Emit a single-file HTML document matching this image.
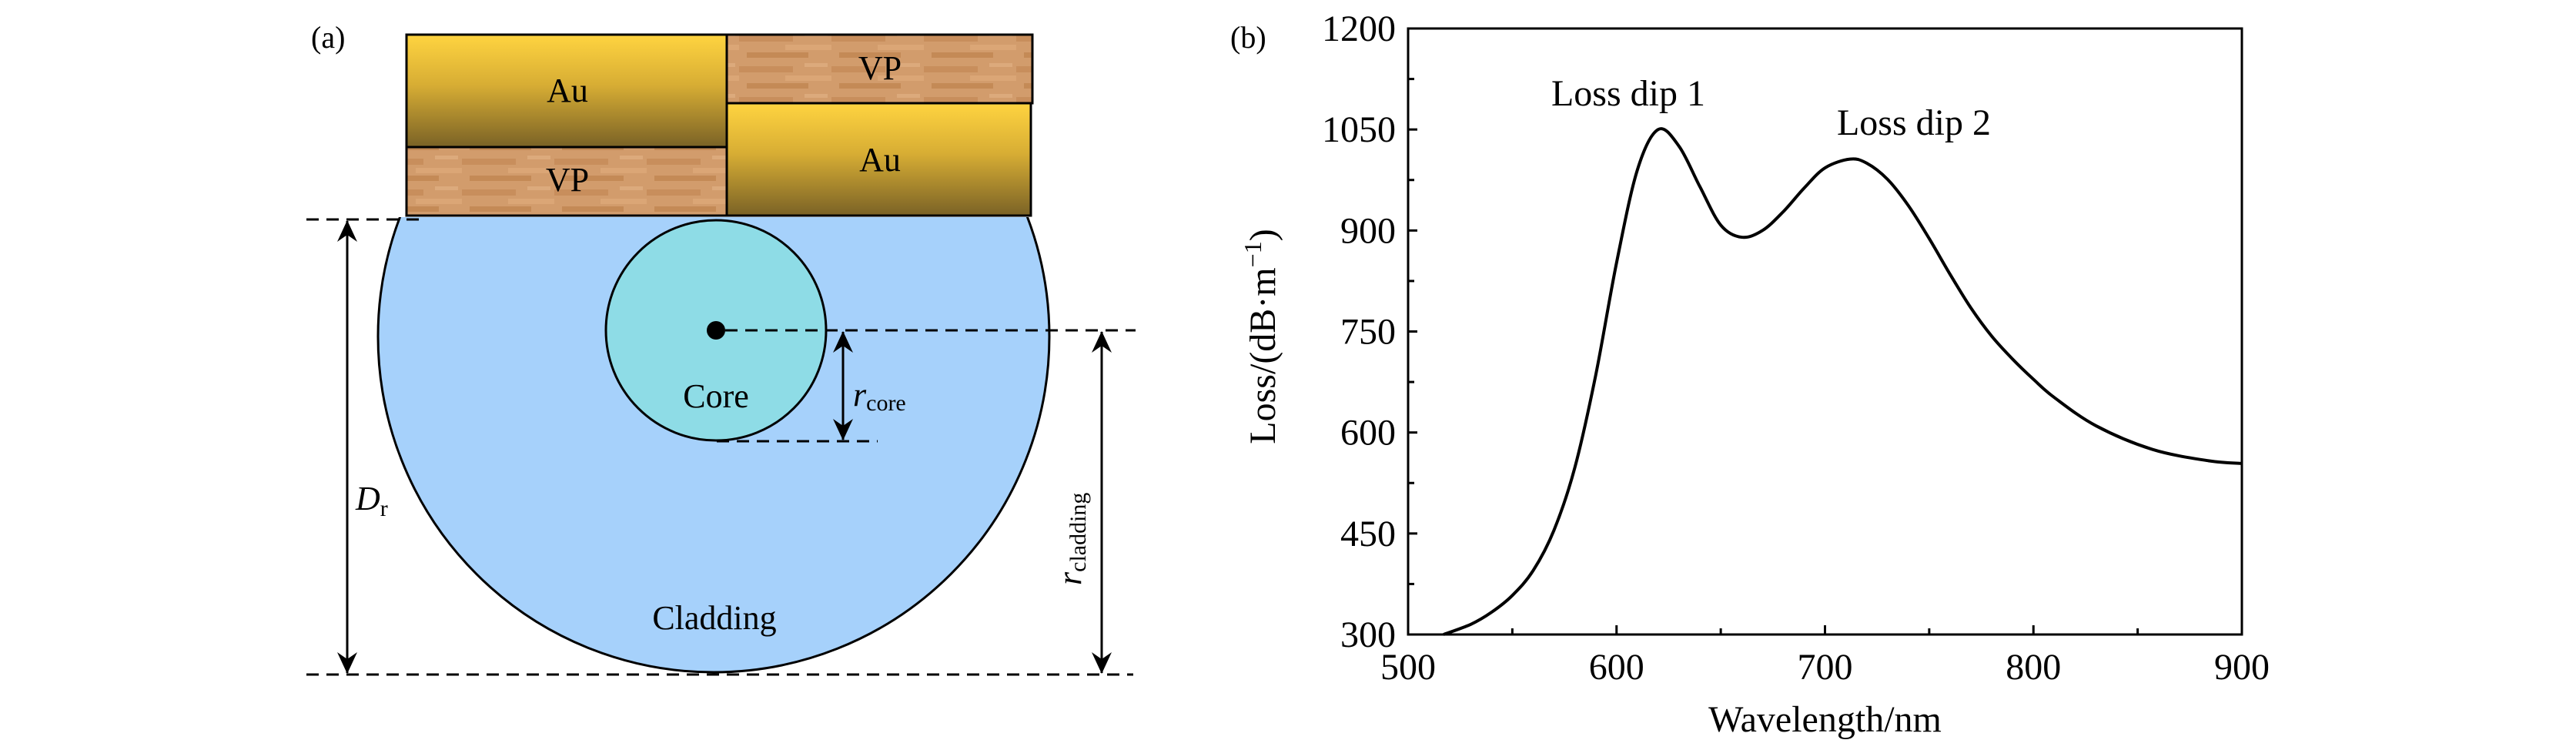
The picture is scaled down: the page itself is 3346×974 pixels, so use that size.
<!DOCTYPE html>
<html><head><meta charset="utf-8"><style>
html,body{margin:0;padding:0;background:#fff;}
svg{display:block;}
svg text{font-family:"Liberation Serif","DejaVu Serif",serif;}
</style></head><body>
<svg id="fig" width="3346" height="974" viewBox="0 0 3346 974" xmlns="http://www.w3.org/2000/svg" font-family="Liberation Serif, serif">
<defs>
<linearGradient id="gold" x1="0" y1="0" x2="0" y2="1">
<stop offset="0" stop-color="#ffd440"/><stop offset="0.45" stop-color="#d7ad34"/><stop offset="1" stop-color="#7a6226"/>
</linearGradient>
<pattern id="wood" width="120" height="40" patternUnits="userSpaceOnUse">
<rect width="120" height="40" fill="#d29c6c"/>
<rect x="0" y="6" width="70" height="8" fill="#c88e5c"/>
<rect x="60" y="18" width="60" height="7" fill="#dba676"/>
<rect x="10" y="28" width="80" height="7" fill="#c48a56"/>
<rect x="85" y="2" width="30" height="5" fill="#dcaa7c"/>
</pattern>
<clipPath id="cladClip"><rect x="0" y="282" width="1600" height="700"/></clipPath>
<marker id="ah" viewBox="0 0 28 28" refX="27" refY="14" markerWidth="28" markerHeight="28" markerUnits="userSpaceOnUse" orient="auto-start-reverse">
<path d="M0,1 L28,14 L0,27 L9,14 Z" fill="#000"/></marker>
</defs>

<g>
<text x="404" y="62" font-size="40" font-family="Liberation Serif, serif">(a)</text>
<circle cx="927" cy="437" r="436" fill="#a6d1fb" stroke="#000" stroke-width="3" clip-path="url(#cladClip)"/>
<rect x="528" y="45" width="416" height="146" fill="url(#gold)" stroke="#000" stroke-width="3"/>
<rect x="528" y="191" width="416" height="89" fill="url(#wood)" stroke="#000" stroke-width="3"/>
<rect x="944" y="45" width="397" height="89" fill="url(#wood)" stroke="#000" stroke-width="3"/>
<rect x="944" y="134" width="395" height="146" fill="url(#gold)" stroke="#000" stroke-width="3"/>
<g font-family="Liberation Serif, serif">
<text x="737" y="132" font-size="44" text-anchor="middle">Au</text>
<text x="737" y="248" font-size="44" text-anchor="middle">VP</text>
<text x="1143" y="103" font-size="44" text-anchor="middle">VP</text>
<text x="1143" y="222" font-size="44" text-anchor="middle">Au</text>
</g>
<circle cx="930" cy="429" r="143" fill="#8edce6" stroke="#000" stroke-width="3"/>
<circle cx="930" cy="429" r="12" fill="#000"/>
<g stroke="#000" stroke-width="3" stroke-dasharray="16,10" fill="none">
<line x1="398" y1="285" x2="552" y2="285"/>
<line x1="398" y1="876" x2="1472" y2="876"/>
<line x1="942" y1="429" x2="1475" y2="429"/>
<line x1="931" y1="573" x2="1140" y2="573"/>
</g>
<g stroke="#000" stroke-width="3">
<line x1="451" y1="287" x2="451" y2="874" marker-start="url(#ah)" marker-end="url(#ah)"/>
<line x1="1095" y1="431" x2="1095" y2="571" marker-start="url(#ah)" marker-end="url(#ah)"/>
<line x1="1431" y1="431" x2="1431" y2="874" marker-start="url(#ah)" marker-end="url(#ah)"/>
</g>
<g font-family="Liberation Serif, serif">
<text x="930" y="529" font-size="44" text-anchor="middle">Core</text>
<text x="928" y="817" font-size="44" text-anchor="middle">Cladding</text>
<text x="1108" y="527" font-size="44"><tspan font-style="italic">r</tspan><tspan font-size="30" dy="6">core</tspan></text>
<text x="462" y="662" font-size="44"><tspan font-style="italic">D</tspan><tspan font-size="30" dy="8">r</tspan></text>
<text transform="translate(1404,760) rotate(-90)" font-size="44"><tspan font-style="italic">r</tspan><tspan font-size="30" dy="6">cladding</tspan></text>
</g>
</g>

<g id="panelB" font-family="Liberation Serif, serif">
<text x="1598" y="62" font-size="40">(b)</text>
</g>
</svg>
<script>
const wavelengths = [517,530,540,550,560,570,580,590,600,610,620,630,640,650,660,670,680,690,700,712,720,730,740,750,760,770,780,790,800,810,830,857,884,900];
const lossValues  = [300,315,333,358,395,455,548,685,852,990,1050,1025,965,908,890,900,928,963,993,1006,1000,976,937,888,835,785,743,709,679,652,610,575,558,554];
const xTickValues = [500,600,700,800,900];
const xMinorTickValues = [550,650,750,850];
const yTickValues = [300,450,600,750,900,1050,1200];
const yMinorTickValues = [375,525,675,825,975,1125];

const L=1829,R=2912,T=37,B=824;
function xScale(v){return L+(v-500)/(900-500)*(R-L);}
function yScale(v){return B-(v-300)/(1200-300)*(B-T);}
const NS="http://www.w3.org/2000/svg";
const g=document.getElementById('panelB');
function mk(tag,attrs){const e=document.createElementNS(NS,tag);for(const k in attrs)e.setAttribute(k,attrs[k]);g.appendChild(e);return e;}

const pts=wavelengths.map((w,i)=>[xScale(w),yScale(lossValues[i])]);
let d="M"+pts[0][0]+","+pts[0][1];
for(let i=0;i<pts.length-1;i++){
  const p0=pts[Math.max(0,i-1)],p1=pts[i],p2=pts[i+1],p3=pts[Math.min(pts.length-1,i+2)];
  const c1=[p1[0]+(p2[0]-p0[0])/6,p1[1]+(p2[1]-p0[1])/6];
  const c2=[p2[0]-(p3[0]-p1[0])/6,p2[1]-(p3[1]-p1[1])/6];
  d+=" C"+c1[0]+","+c1[1]+" "+c2[0]+","+c2[1]+" "+p2[0]+","+p2[1];
}
const curve=mk('path',{d:d,fill:'none',stroke:'#000','stroke-width':4,'stroke-linejoin':'round'});



const frame=mk('rect',{x:L,y:T,width:R-L,height:B-T,fill:'none',stroke:'#000','stroke-width':3});



xTickValues.forEach(v=>{
  const t=mk('line',{x1:xScale(v),x2:xScale(v),y1:B,y2:B-12,stroke:'#000','stroke-width':3});
  
  
  const lb=mk('text',{x:xScale(v),y:B+58,'font-size':48,'text-anchor':'middle'});
  lb.textContent=v;
  
  
});
xMinorTickValues.forEach(v=>{
  const t=mk('line',{x1:xScale(v),x2:xScale(v),y1:B,y2:B-8,stroke:'#000','stroke-width':3});
  
  
});
yTickValues.forEach(v=>{
  const t=mk('line',{x1:L,x2:L+12,y1:yScale(v),y2:yScale(v),stroke:'#000','stroke-width':3});
  
  
  const lb=mk('text',{x:L-16,y:yScale(v)+16,'font-size':48,'text-anchor':'end'});
  lb.textContent=v;
  
  
});
yMinorTickValues.forEach(v=>{
  const t=mk('line',{x1:L,x2:L+8,y1:yScale(v),y2:yScale(v),stroke:'#000','stroke-width':3});
  
  
});

const xt=mk('text',{x:(L+R)/2,y:950,'font-size':48,'text-anchor':'middle'});
xt.textContent='Wavelength/nm';


const yt=mk('text',{transform:'translate(1656,437) rotate(-90)','font-size':48,'text-anchor':'middle'});
yt.innerHTML='Loss/(dB·m<tspan font-size="32" dy="-18">−1</tspan><tspan dy="18">)</tspan>';



const a1=mk('text',{x:2115,y:137,'font-size':48,'text-anchor':'middle'});
a1.textContent='Loss dip 1';


const a2=mk('text',{x:2486,y:175,'font-size':48,'text-anchor':'middle'});
a2.textContent='Loss dip 2';


</script>
</body></html>
